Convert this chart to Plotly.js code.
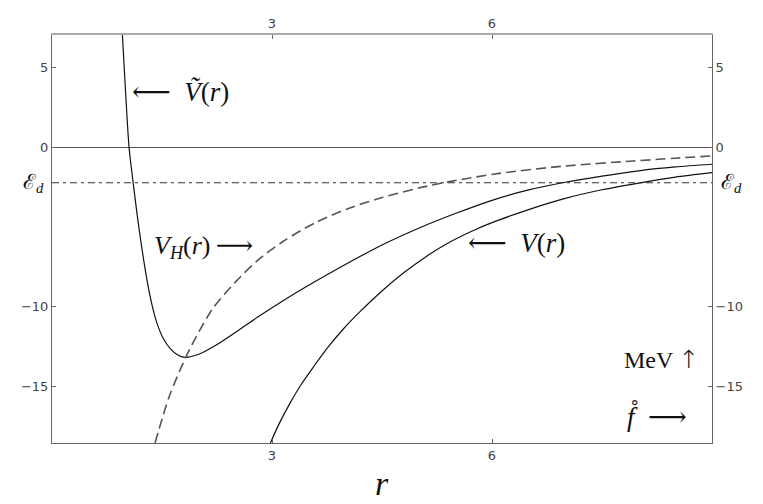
<!DOCTYPE html>
<html>
<head>
<meta charset="utf-8">
<script src="https://cdn.plot.ly/plotly-3.0.1.min.js"></script>
<style>html,body{margin:0;padding:0;background:#fff;}#chart{width:763px;height:504px;}</style>
</head>
<body>
<div id="chart"></div>
<script>
// Tilde-V(r): full potential (solid, with the minimum)
const rTilde = [0.960, 1.003, 1.051, 1.106, 1.190, 1.295, 1.37, 1.43, 1.52, 1.61, 1.71, 1.81, 2.0, 2.24, 2.5, 2.8, 3.2, 3.6, 4.0, 4.5, 5.0, 5.5, 6.0, 6.5, 7.0, 7.5, 8.0, 8.5, 9.0];
const vTilde = [7.04, 3.5, 0.0, -2.2, -5.2, -8.3, -10.0, -11.0, -12.0, -12.6, -13.0, -13.16, -12.97, -12.39, -11.6, -10.65, -9.47, -8.38, -7.34, -6.12, -5.07, -4.15, -3.32, -2.67, -2.19, -1.80, -1.47, -1.23, -1.06];
// V(r): lower solid curve
const rV = [2.978, 3.1, 3.25, 3.4, 3.56, 3.75, 3.97, 4.2, 4.5, 4.8, 5.1, 5.42, 5.8, 6.1, 6.5, 7.0, 7.5, 8.1, 8.5, 9.0];
const vV = [-18.53, -17.3, -16.0, -14.85, -13.8, -12.6, -11.4, -10.3, -9.0, -7.85, -6.85, -5.95, -5.1, -4.55, -3.9, -3.2, -2.66, -2.16, -1.87, -1.59];
// V_H(r): dashed curve
const rH = [1.405, 1.6, 1.83, 2.01, 2.2, 2.5, 2.8, 3.15, 3.6, 4.06, 4.5, 5.0, 5.42, 6.1, 7.0, 7.92, 8.5, 9.0];
const vH = [-18.53, -15.6, -13.1, -11.5, -10.05, -8.45, -7.1, -5.9, -4.7, -3.8, -3.15, -2.55, -2.15, -1.63, -1.17, -0.86, -0.68, -0.54];
// Deuteron energy level
const rLevel = [0, 9];
const eD = -2.22;
// Axes
const xRange = [0, 9];
const yRange = [-18.53, 7.04];
const xTicks = [3, 6];
const yTicks = [5, 0, -10, -15];

const serif = "Liberation Serif, DejaVu Serif, serif";
const tickFont = {family: "DejaVu Sans, sans-serif", size: 13, color: "#444"};
const labFont = {family: serif, size: 27, color: "#111"};
const sp = "\u2002";
const thin = "\u2009";

const traces = [
  {x: rTilde, y: vTilde, mode: "lines", line: {color: "#111", width: 1.2, shape: "spline", smoothing: 0.8}, hoverinfo: "skip", showlegend: false},
  {x: rV, y: vV, mode: "lines", line: {color: "#111", width: 1.2, shape: "spline", smoothing: 0.8}, hoverinfo: "skip", showlegend: false},
  {x: rH, y: vH, mode: "lines", line: {color: "#555", width: 1.6, dash: "10px,5px", shape: "spline", smoothing: 0.8}, hoverinfo: "skip", showlegend: false},
  {x: rLevel, y: rLevel.map(() => eD), xaxis: "x2", yaxis: "y2", mode: "lines", line: {color: "#333", width: 1, dash: "7px,4px,3px,4px"}, hoverinfo: "skip", showlegend: false}
];

const common = {ticks: "inside", ticklen: 4, tickcolor: "#666", showgrid: false, tickfont: tickFont, showline: true, linecolor: "#666", linewidth: 1};

const layout = {
  width: 763, height: 504,
  margin: {l: 52, r: 51, t: 35, b: 61},
  paper_bgcolor: "#fff", plot_bgcolor: "#fff",
  xaxis: Object.assign({}, common, {range: xRange, tickvals: xTicks, zeroline: false}),
  yaxis: Object.assign({}, common, {range: yRange, tickvals: yTicks, zeroline: true, zerolinecolor: "#555", zerolinewidth: 1}),
  xaxis2: Object.assign({}, common, {range: xRange, tickvals: xTicks, overlaying: "x", side: "top", anchor: "y2", zeroline: false, linecolor: "#aaa", linewidth: 2}),
  yaxis2: Object.assign({}, common, {range: yRange, tickvals: yTicks, overlaying: "y", side: "right", anchor: "x2", zeroline: false}),
  annotations: [
    {text: "⟵" + sp + "<i>Ṽ</i>(<i>r</i>)", x: 1.06, y: 3.45, xref: "x", yref: "y", xanchor: "left", yanchor: "middle", showarrow: false, font: labFont},
    {text: "<i>V</i><sub><i>H</i></sub>(<i>r</i>)" + thin + "⟶", x: 1.37, y: -6.22, xref: "x", yref: "y", xanchor: "left", yanchor: "middle", showarrow: false, font: {family: serif, size: 26, color: "#111"}},
    {text: "⟵" + sp + "<i>V</i>(<i>r</i>)", x: 5.65, y: -6.01, xref: "x", yref: "y", xanchor: "left", yanchor: "middle", showarrow: false, font: labFont},
    {text: "MeV" + thin + "<span style=\"font-family:'DejaVu Sans';font-size:25px;font-weight:300\">↑</span>", x: 7.77, y: -13.27, xref: "x", yref: "y", xanchor: "left", yanchor: "middle", showarrow: false, font: {family: serif, size: 24, color: "#111"}},
    {text: "<i>f̊</i>" + sp + "⟶", x: 7.81, y: -16.82, xref: "x", yref: "y", xanchor: "left", yanchor: "middle", showarrow: false, font: labFont},
    {text: "<i>r</i>", x: 0.5, y: -0.0997, xref: "paper", yref: "paper", xanchor: "center", yanchor: "middle", showarrow: false, font: {family: serif, size: 34, color: "#111"}},
    {text: "ℰ<sub><i>d</i></sub>", x: -0.0095, y: eD, xref: "paper", yref: "y", xanchor: "right", yanchor: "middle", showarrow: false, font: {family: serif, size: 21, color: "#111"}},
    {text: "ℰ<sub><i>d</i></sub>", x: 1.0102, y: eD, xref: "paper", yref: "y", xanchor: "left", yanchor: "middle", showarrow: false, font: {family: serif, size: 21, color: "#111"}}
  ]
};

Plotly.newPlot("chart", traces, layout, {staticPlot: true, displayModeBar: false});
</script>
</body>
</html>
